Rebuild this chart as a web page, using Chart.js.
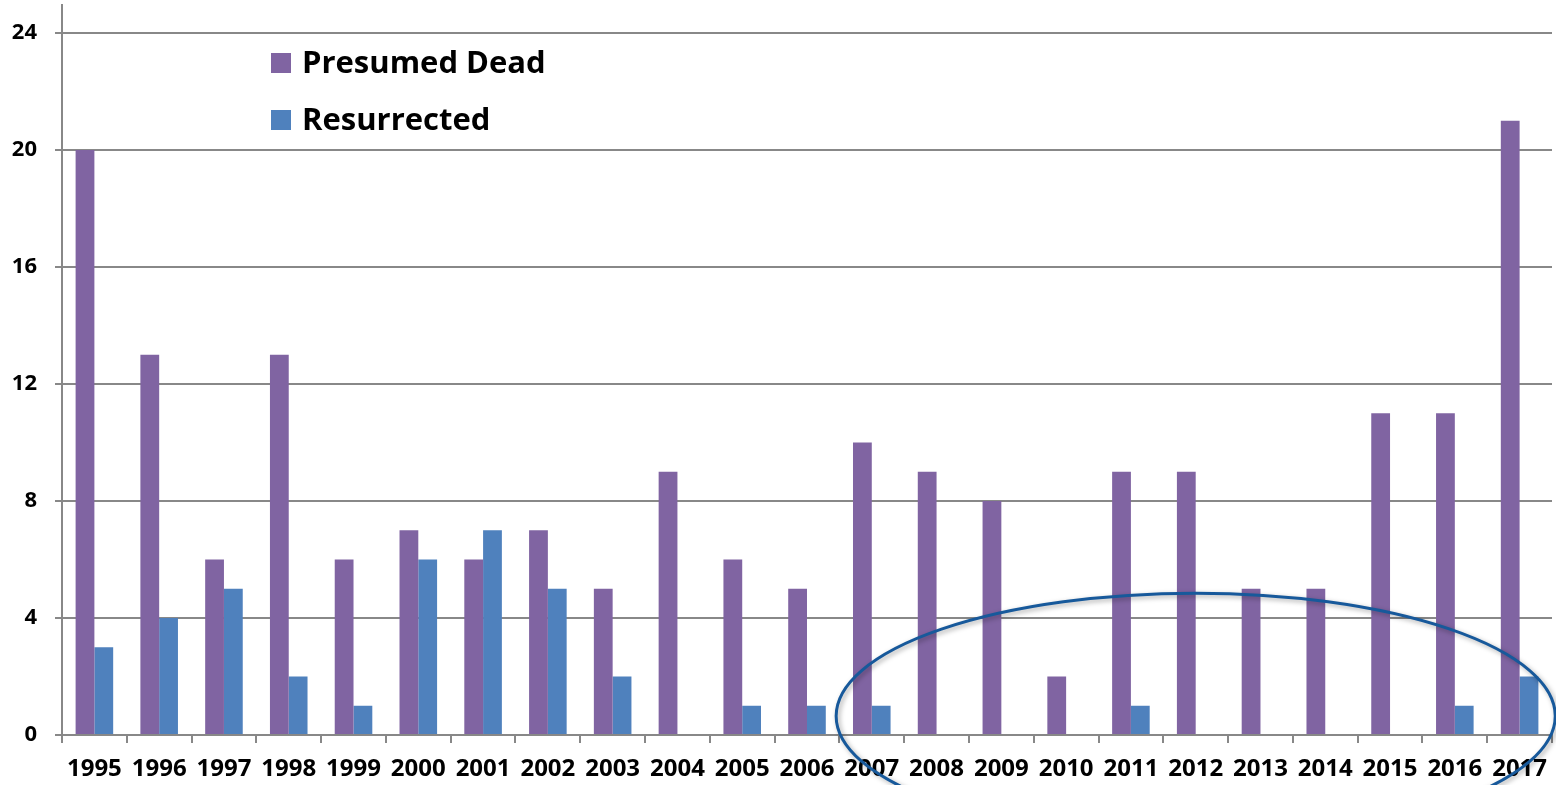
<!DOCTYPE html>
<html>
<head>
<meta charset="utf-8">
<script src="https://cdn.jsdelivr.net/npm/chart.js@4.4.0/dist/chart.umd.min.js"></script>
<style>
    html, body { margin: 0; padding: 0; background: #fff; }
    #wrap { width: 1556px; height: 785px; position: relative; }
</style>
</head>
<body>
<div id="wrap"><canvas id="chart"></canvas></div>
<script>
const years = ['1995', '1996', '1997', '1998', '1999', '2000', '2001', '2002', '2003', '2004', '2005', '2006',
    '2007', '2008', '2009', '2010', '2011', '2012', '2013', '2014', '2015', '2016', '2017'];
const presumedDead = [20, 13, 6, 13, 6, 7, 6, 7, 5, 9, 6, 5, 10, 9, 8, 2, 9, 9, 5, 5, 11, 11, 21];
const resurrected = [3, 4, 5, 2, 1, 6, 7, 5, 2, 0, 1, 1, 1, 0, 0, 0, 1, 0, 0, 0, 0, 1, 2];
const yTicks = [0, 4, 8, 12, 16, 20, 24];

const gridGray = '#888888';
const fontFamily = '"Open Sans", Lato, sans-serif';

// legend drawn inside the plot, top left
const innerLegend = {
    id: 'innerLegend',
    afterDraw(chart, args, opts) {
        const ctx = chart.ctx;
        ctx.save();
        ctx.font = 'bold ' + opts.fontSize + 'px ' + fontFamily;
        ctx.textBaseline = 'middle';
        chart.data.datasets.forEach((ds, i) => {
            const cy = opts.top + i * opts.rowGap;
            ctx.fillStyle = ds.backgroundColor;
            ctx.fillRect(opts.left, cy - opts.box / 2, opts.box, opts.box);
            ctx.fillStyle = '#000';
            ctx.fillText(ds.label, opts.left + opts.box + opts.textGap, cy + 1);
        });
        ctx.restore();
    }
};

// hand-drawn style ellipse around the later years
const ellipseMark = {
    id: 'ellipseMark',
    afterDatasetsDraw(chart, args, opts) {
        const x = chart.scales.x, y = chart.scales.y;
        const catW = x.getPixelForValue(1) - x.getPixelForValue(0);
        const cx = x.getPixelForValue(opts.centerIndex);
        const cy = y.getPixelForValue(opts.centerValue);
        const rx = opts.halfCategories * catW;
        const ry = y.getPixelForValue(0) - y.getPixelForValue(opts.halfValue);
        const ctx = chart.ctx;
        ctx.save();
        ctx.shadowColor = 'rgba(0,0,0,0.35)';
        ctx.shadowBlur = 5;
        ctx.shadowOffsetX = 2;
        ctx.shadowOffsetY = 2;
        ctx.strokeStyle = opts.color;
        ctx.lineWidth = 3;
        ctx.beginPath();
        ctx.ellipse(cx, cy, rx, ry, opts.rotation, 0, Math.PI * 2);
        ctx.stroke();
        ctx.restore();
    }
};

const ctx = document.getElementById('chart').getContext('2d');
new Chart(ctx, {
    type: 'bar',
    data: {
        labels: years,
        datasets: [{
            label: 'Presumed Dead',
            data: presumedDead,
            backgroundColor: '#8064A2',
            categoryPercentage: 0.58,
            barPercentage: 1.0
        }, {
            label: 'Resurrected',
            data: resurrected,
            backgroundColor: '#4F81BD',
            categoryPercentage: 0.58,
            barPercentage: 1.0
        }]
    },
    options: {
        responsive: true,
        maintainAspectRatio: false,
        animation: false,
        devicePixelRatio: 1,
        layout: { padding: { top: 5, right: 4, left: 0, bottom: 0 } },
        plugins: {
            legend: { display: false },
            tooltip: { enabled: false },
            innerLegend: { left: 271, top: 63, rowGap: 57, box: 20, textGap: 11, fontSize: 31 },
            ellipseMark: { centerIndex: 17, centerValue: 0.65, halfCategories: 5.55, halfValue: 4.2, rotation: 0, color: '#17599b' }
        },
        scales: {
            x: {
                grid: { drawOnChartArea: false, color: gridGray, lineWidth: 2, tickLength: 8 },
                border: { color: gridGray, width: 2 },
                ticks: {
                    color: '#000',
                    font: { family: fontFamily, size: 24, weight: 'bold' },
                    padding: 12,
                    maxRotation: 0,
                    autoSkip: false
                },
                afterFit(scale) { scale.height = 50; scale.paddingLeft = 0; scale.paddingRight = 0; }
            },
            y: {
                min: 0,
                max: 24.96,
                afterBuildTicks(scale) { scale.ticks = yTicks.map(v => ({ value: v })); },
                grid: { color: gridGray, lineWidth: 2, tickLength: 7 },
                border: { color: gridGray, width: 2 },
                ticks: {
                    color: '#000',
                    font: { family: fontFamily, size: 22, weight: 'bold' },
                    padding: 18
                },
                afterFit(scale) { scale.width = 62; scale.paddingTop = 0; scale.paddingBottom = 0; }
            }
        }
    },
    plugins: [innerLegend, ellipseMark]
});
</script>
</body>
</html>
